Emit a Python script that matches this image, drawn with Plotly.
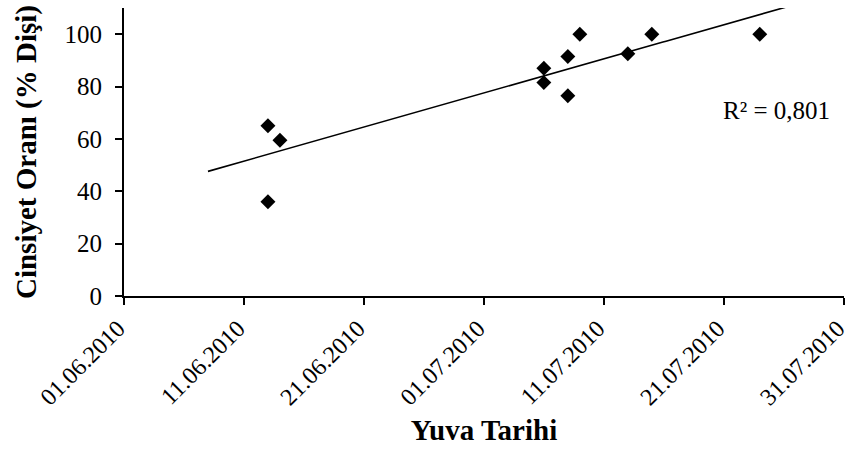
import numpy as np
import pandas as pd
import plotly.graph_objects as go

# Nest dates and sex ratio (% female) per nest
nest_dates = ["2010-06-13", "2010-06-13", "2010-06-14", "2010-07-06", "2010-07-06",
              "2010-07-08", "2010-07-08", "2010-07-09", "2010-07-13", "2010-07-15",
              "2010-07-24"]
female_pct = [65, 36, 59.5, 87, 81.5, 91.5, 76.5, 100, 92.5, 100, 100]
r2_text = "R² = 0,801"

# Axis ticks
x_tick_dates = ["2010-06-01", "2010-06-11", "2010-06-21", "2010-07-01",
                "2010-07-11", "2010-07-21", "2010-07-31"]
x_tick_labels = ["01.06.2010", "11.06.2010", "21.06.2010", "01.07.2010",
                 "11.07.2010", "21.07.2010", "31.07.2010"]
y_ticks = [0, 20, 40, 60, 80, 100]

FONT = "Liberation Serif, Times New Roman, serif"

dates = pd.to_datetime(nest_dates)
origin = pd.Timestamp(x_tick_dates[0])
days = np.array([(d - origin).days for d in dates], dtype=float)
vals = np.array(female_pct, dtype=float)

# Linear trend line, extended 5 days back and forward
slope, intercept = np.polyfit(days, vals, 1)
t_days = np.linspace(days.min() - 5, days.max() + 5, 200)
t_dates = [origin + pd.Timedelta(days=float(d)) for d in t_days]
t_vals = intercept + slope * t_days

fig = go.Figure()
fig.add_trace(go.Scatter(
    x=t_dates, y=t_vals, mode="lines",
    line=dict(color="black", width=1.6), hoverinfo="skip", showlegend=False,
))
fig.add_trace(go.Scatter(
    x=dates, y=vals, mode="markers",
    marker=dict(symbol="diamond", size=11.5, color="black", line=dict(width=0)),
    showlegend=False,
))

fig.add_annotation(
    x=pd.Timestamp("2010-07-25") + pd.Timedelta(hours=10), y=71,
    text=r2_text, showarrow=False, xref="x", yref="y",
    font=dict(family=FONT, size=25, color="black"),
)

x_range_end = pd.Timestamp(x_tick_dates[-1]) + pd.Timedelta(minutes=30)

fig.update_layout(
    width=849, height=456,
    margin=dict(l=124, r=5, t=8, b=160),
    paper_bgcolor="white", plot_bgcolor="white",
    font=dict(family=FONT, color="black"),
)
fig.update_xaxes(
    type="date", range=[x_tick_dates[0], x_range_end],
    tickmode="array", tickvals=x_tick_dates, ticktext=x_tick_labels,
    tickangle=-45, tickfont=dict(family=FONT, size=24),
    ticklabeloverflow="allow", ticklabelshift=-6, automargin=False,
    showline=True, linecolor="black", linewidth=2,
    ticks="outside", ticklen=7, tickwidth=1.5, tickcolor="black",
    showgrid=False, zeroline=False,
    title=dict(text="<b>Yuva Tarihi</b>", font=dict(family=FONT, size=29), standoff=11),
)
fig.update_yaxes(
    range=[0, 110], tickvals=y_ticks,
    tickfont=dict(family=FONT, size=25), ticklabelstandoff=8,
    showline=True, linecolor="black", linewidth=2,
    ticks="outside", ticklen=7, tickwidth=1.5, tickcolor="black",
    showgrid=False, zeroline=False,
    title=dict(text="<b>Cinsiyet Oranı (% Dişi)</b>", font=dict(family=FONT, size=29), standoff=19),
)

fig.write_html("out.html")
